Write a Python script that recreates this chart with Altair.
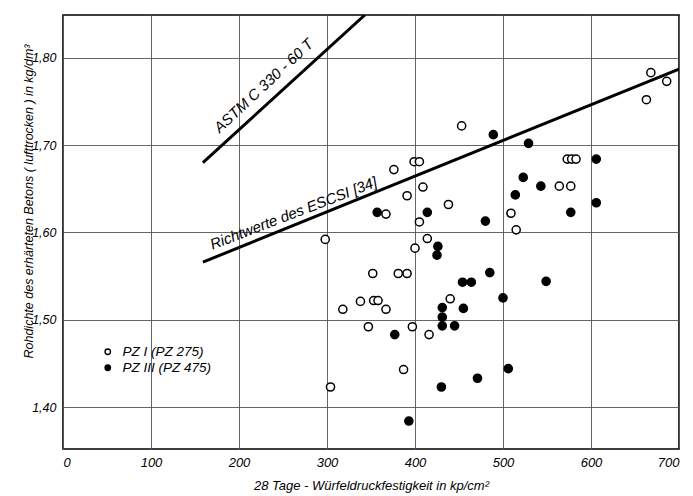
import altair as alt
import pandas as pd

# PZ I (PZ 275): 28-day cube strength [kp/cm2] and dry density [kg/dm3]
pz1_x = [453, 399, 405, 376, 409, 391, 438, 367, 405, 298, 414, 400, 352, 381, 391,
         318, 338, 353, 358, 367, 347, 397, 416, 440, 387, 304,
         573, 578, 583, 564, 577, 509, 515, 668, 686, 663]
pz1_y = [1.722, 1.681, 1.681, 1.672, 1.652, 1.642, 1.632, 1.621, 1.612, 1.592, 1.593, 1.582, 1.553, 1.553, 1.553,
         1.512, 1.521, 1.522, 1.522, 1.512, 1.492, 1.492, 1.483, 1.524, 1.443, 1.423,
         1.684, 1.684, 1.684, 1.653, 1.653, 1.622, 1.603, 1.783, 1.773, 1.752]

# PZ III (PZ 475)
pz3_x = [357, 414, 426, 425, 454, 464, 377, 431, 431, 431, 445, 455, 430, 471, 393,
         489, 529, 606, 523, 543, 514, 606, 577, 480, 485, 549, 500, 506]
pz3_y = [1.623, 1.623, 1.584, 1.574, 1.543, 1.543, 1.483, 1.514, 1.503, 1.493, 1.493, 1.513, 1.423, 1.433, 1.384,
         1.712, 1.702, 1.684, 1.663, 1.653, 1.643, 1.634, 1.623, 1.613, 1.554, 1.544, 1.525, 1.444]

series_names = ["PZ I (PZ 275)", "PZ III (PZ 475)"]

# Reference lines
astm_x = [159, 343]
astm_y = [1.680, 1.849]
escsi_x = [159, 700]
escsi_y = [1.566, 1.787]

# Line captions
caption_text = ["ASTM C 330 - 60 T", "Richtwerte des ESCSI [34]"]
caption_x = [228, 262]
caption_y = [1.768, 1.622]
caption_angle = [317, 339]

x_ticks = [0, 100, 200, 300, 400, 500, 600, 700]
y_ticks = [1.40, 1.50, 1.60, 1.70, 1.80]

FONT = "Liberation Sans, Arial, sans-serif"

points = pd.DataFrame({
    "x": pz1_x + pz3_x,
    "y": pz1_y + pz3_y,
    "Zement": [series_names[0]] * len(pz1_x) + [series_names[1]] * len(pz3_x),
})
lines = pd.DataFrame({
    "x": astm_x + escsi_x,
    "y": astm_y + escsi_y,
    "Linie": ["ASTM"] * 2 + ["ESCSI"] * 2,
})
captions = pd.DataFrame({
    "text": caption_text,
    "x": caption_x,
    "y": caption_y,
    "angle": caption_angle,
})

x_scale = alt.Scale(domain=[0, 700], nice=False, zero=False)
y_scale = alt.Scale(domain=[1.352, 1.849], nice=False, zero=False)

x_enc = alt.X(
    "x:Q", scale=x_scale,
    axis=alt.Axis(
        values=x_ticks, format="d",
        title="28 Tage - Würfeldruckfestigkeit in kp/cm²",
        titleY=40, titleBaseline="alphabetic", titleColor="black",
        labelPadding=7, labelFontSize=13,
    ),
)
y_enc = alt.Y(
    "y:Q", scale=y_scale,
    axis=alt.Axis(
        values=y_ticks,
        labelExpr="replace(format(datum.value, '.2f'), '.', ',')",
        title="Rohdichte des erhärteten Betons  ( lufttrocken ) in kg/dm³",
        titleX=-35, titleY=186, titleAngle=270,
        titleAlign="center", titleBaseline="middle",
        titleFontSize=12.5, titleColor="black",
        labelPadding=7, labelFontSize=12.5,
    ),
)

line_layer = alt.Chart(lines).mark_line(color="black", strokeWidth=3, clip=True).encode(
    x=alt.X("x:Q", scale=x_scale),
    y=alt.Y("y:Q", scale=y_scale),
    detail="Linie:N",
)

point_layer = alt.Chart(points).mark_point(
    shape="circle", filled=True, stroke="black", strokeWidth=1.5, size=66, opacity=1
).encode(
    x=x_enc,
    y=y_enc,
    fill=alt.Fill(
        "Zement:N",
        scale=alt.Scale(domain=series_names, range=["white", "black"]),
        legend=alt.Legend(
            title=None, orient="none", legendX=38, legendY=330,
            symbolSize=30, symbolStrokeWidth=1.3, symbolStrokeColor="black",
            labelFont=FONT, labelFontSize=13.5, labelFontStyle="italic",
            labelColor="black", rowPadding=1, labelOffset=8,
        ),
    ),
)

caption_layer = alt.Chart(captions).mark_text(
    font=FONT, fontSize=15, fontStyle="italic", color="black",
    align="center", baseline="middle",
).encode(
    x=alt.X("x:Q", scale=x_scale),
    y=alt.Y("y:Q", scale=y_scale),
    text="text:N",
    angle=alt.Angle("angle:Q", scale=None),
)

chart = alt.layer(line_layer, point_layer, caption_layer).properties(
    width=616,
    height=434,
    padding={"left": 63, "top": 15, "right": 14, "bottom": 47},
    autosize=alt.AutoSizeParams(type="none"),
    background="white",
).configure_view(
    stroke="black", strokeWidth=1.6,
).configure_axis(
    grid=True, gridColor="#555555", gridWidth=0.9,
    domain=False, ticks=False,
    labelFont=FONT, labelFontStyle="italic", labelColor="black",
    titleFont=FONT, titleFontSize=13, titleFontStyle="italic", titleFontWeight="normal",
    titleColor="black",
)

chart.save("out.html", embed_options={"renderer": "svg", "actions": False})
